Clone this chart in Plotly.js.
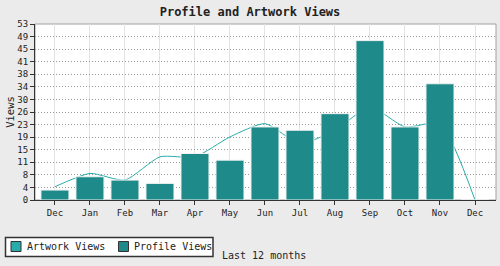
<!DOCTYPE html>
<html>
<head>
<meta charset="utf-8">
<script src="https://cdn.plot.ly/plotly-3.0.1.min.js"></script>
<style>html,body{margin:0;padding:0;background:#ebebeb;}#chart{width:500px;height:266px;}</style>
</head>
<body>
<div id="chart"></div>
<script>
var months = ["Dec","Jan","Feb","Mar","Apr","May","Jun","Jul","Aug","Sep","Oct","Nov","Dec"];
var artworkViews = [4, 8, 6, 13, 13, 19, 23, 17, 21, 28, 22, 23, 0];
var profileViews = [3, 7, 6, 5, 14, 12, 22, 21, 26, 48, 22, 35, 0];
var yTickLabels = ["0","4","8","11","15","19","23","26","30","34","38","41","45","49","53"];
var seriesNames = ["Artwork Views", "Profile Views"];
var yMax = 53;

var idx = months.map(function(_, i){ return i; });
var yTickVals = yTickLabels.map(function(_, i){ return i * yMax / (yTickLabels.length - 1); });

var mono = "DejaVu Sans Mono, Liberation Mono, monospace";
var lineColor = "#2aabab";
var barColor = "#1e8a8a";
var seriesColors = [lineColor, barColor];

// plot area in pixels: left 35, right 496, top 24, bottom 200
var PL = 35, PR = 496, PT = 24, PB = 200;
function px(x){ return (x - PL) / (PR - PL); }
function py(y){ return (PB - y) / (PB - PT); }

var data = [
  {type:"scatter", mode:"lines", x: idx, y: artworkViews, name: seriesNames[0],
   line:{color: lineColor, width:1, shape:"spline", smoothing:0.6}, showlegend:false, hoverinfo:"skip"},
  {type:"bar", x: idx, y: profileViews, name: seriesNames[1], yaxis:"y2",
   width:0.8, marker:{color: barColor, line:{color:"#f2f2f2", width:1}}, showlegend:false}
];

// custom legend box (swatches + labels)
var shapes = [
  {type:"rect", xref:"paper", yref:"paper", x0:0, x1:1, y0:0, y1:1, line:{color:"#a0a0a0", width:1}, layer:"below"},
  {type:"rect", xref:"paper", yref:"paper", x0:px(5.5), x1:px(213), y0:py(256.5), y1:py(237.5),
   fillcolor:"#ffffff", line:{color:"#333", width:1.5}}
];
var swX = [11, 118.5];
var txX = [24.5, 132];
var annotations = [
  {text:"Last 12 months", xref:"paper", yref:"paper", x:px(263.5), y:py(255.5), xanchor:"center", yanchor:"middle",
   showarrow:false, font:{size:10, family: mono, color:"#222"}}
];
for (var i = 0; i < seriesNames.length; i++) {
  shapes.push({type:"rect", xref:"paper", yref:"paper", x0:px(swX[i]), x1:px(swX[i]+10), y0:py(251.5), y1:py(241.5),
               fillcolor: seriesColors[i], line:{color:"#333", width:1}});
  annotations.push({text: seriesNames[i], xref:"paper", yref:"paper", x:px(txX[i]), y:py(246.5),
                    xanchor:"left", yanchor:"middle", showarrow:false, font:{size:10, family: mono, color:"#222"}});
}

var layout = {
  width:500, height:266,
  paper_bgcolor:"#ebebeb", plot_bgcolor:"#ffffff",
  margin:{l:PL, r:500-PR, t:PT, b:266-PB},
  font:{family: mono, color:"#222", size:9},
  title:{text:"<b>Profile and Artwork Views</b>", x:0.5, xref:"container", y:0.955, yref:"container", yanchor:"middle",
         font:{family: mono, size:12, color:"#222"}},
  barmode:"overlay",
  showlegend:false,
  xaxis:{range:[-0.57, 12.6], tickvals: idx, ticktext: months, showgrid:true, gridcolor:"#e3e3e3", gridwidth:1,
         ticks:"outside", ticklen:4, tickcolor:"#333", showline:true, linecolor:"#333", linewidth:1,
         zeroline:false, tickfont:{size:9, family: mono}, fixedrange:true},
  yaxis:{range:[0, yMax], tickvals: yTickVals, ticktext: yTickLabels, showgrid:true, gridcolor:"#999", griddash:"1px,2px",
         gridwidth:1, ticks:"outside", ticklen:4, tickcolor:"#333", showline:true, linecolor:"#333", linewidth:1,
         zeroline:false, tickfont:{size:9, family: mono},
         title:{text:"Views", font:{size:10.5, family: mono}, standoff:0}, automargin:false},
  yaxis2:{range:[0, yMax], overlaying:"y", side:"left", showgrid:false, showticklabels:false, ticks:"",
          showline:false, zeroline:false},
  shapes: shapes,
  annotations: annotations
};

Plotly.newPlot("chart", data, layout, {displayModeBar:false, staticPlot:true});
</script>
</body>
</html>
